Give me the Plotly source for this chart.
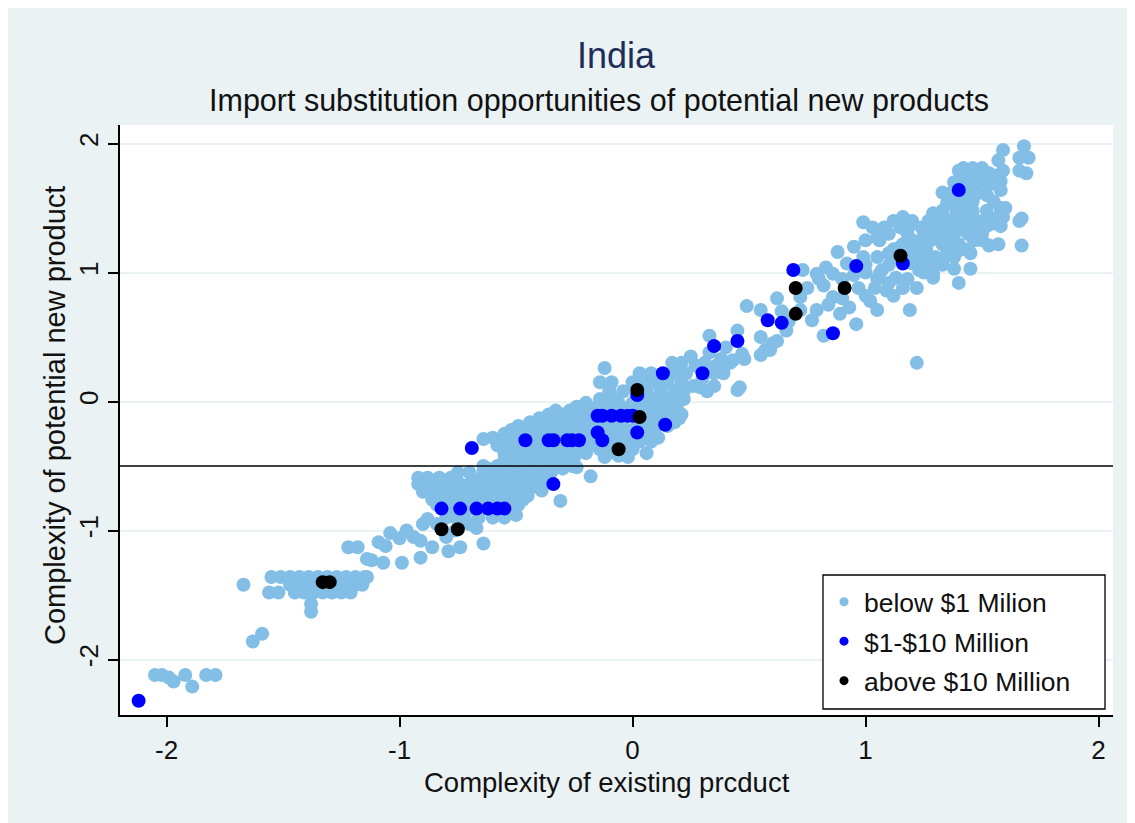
import plotly.graph_objects as go

# ---------------- data ----------------
series_names = ["below $1 Milion", "$1-$10 Million", "above $10 Million"]
series_colors = ["#82BEE6", "#0000FF", "#000000"]

light_points = [
    # far lower-left
    (-2.05, -2.12), (-2.02, -2.12), (-1.99, -2.14), (-1.97, -2.17), (-1.92, -2.12), (-1.89, -2.21),
    (-1.83, -2.12), (-1.79, -2.12), (-1.63, -1.86), (-1.59, -1.80), (-1.67, -1.42),
    # cluster around -1.4
    (-1.55, -1.36), (-1.51, -1.36), (-1.47, -1.36), (-1.43, -1.36), (-1.39, -1.36), (-1.35, -1.36),
    (-1.31, -1.36), (-1.27, -1.36), (-1.23, -1.36), (-1.19, -1.36), (-1.15, -1.36),
    (-1.47, -1.42), (-1.42, -1.42), (-1.37, -1.42), (-1.27, -1.42), (-1.23, -1.42), (-1.19, -1.42),
    (-1.16, -1.42), (-1.56, -1.48), (-1.52, -1.48), (-1.45, -1.48), (-1.41, -1.48), (-1.37, -1.48),
    (-1.33, -1.48), (-1.29, -1.48), (-1.25, -1.48), (-1.21, -1.48), (-1.38, -1.57), (-1.38, -1.63),
    (-1.14, -1.36), (-1.22, -1.13), (-1.18, -1.13),
    # -1.15 .. -0.85
    (-1.09, -1.09), (-1.06, -1.12), (-1.04, -1.02), (-1.00, -1.06), (-1.12, -1.23), (-1.07, -1.25),
    (-0.99, -1.25), (-0.94, -1.05), (-0.91, -1.08), (-0.91, -1.21), (-0.90, -0.95), (-0.86, -1.13),
    (-0.80, -1.05), (-0.79, -1.16), (-0.76, -1.00), (-0.74, -1.13), (-0.67, -0.98), (-0.64, -1.10),
    (-0.97, -1.00), (-0.88, -0.91), (-1.14, -1.22),
    # dense lower cluster
    (-0.92, -0.59), (-0.88, -0.59), (-0.83, -0.59), (-0.78, -0.59),
    (-0.86, -0.61), (-0.81, -0.61), (-0.76, -0.61), (-0.68, -0.61), (-0.63, -0.61), (-0.58, -0.61),
    (-0.53, -0.61), (-0.48, -0.61), (-0.43, -0.61),
    (-0.92, -0.64), (-0.87, -0.64), (-0.83, -0.64), (-0.79, -0.64), (-0.74, -0.64), (-0.70, -0.64),
    (-0.65, -0.64), (-0.61, -0.64), (-0.56, -0.64),
    (-0.88, -0.67), (-0.82, -0.67), (-0.77, -0.67), (-0.72, -0.67), (-0.68, -0.67), (-0.64, -0.67),
    (-0.60, -0.67), (-0.56, -0.67), (-0.52, -0.67), (-0.48, -0.67), (-0.44, -0.67), (-0.40, -0.67),
    (-0.90, -0.70), (-0.85, -0.70), (-0.80, -0.70), (-0.75, -0.70), (-0.71, -0.70), (-0.66, -0.70),
    (-0.62, -0.70), (-0.58, -0.70), (-0.54, -0.70), (-0.50, -0.70), (-0.46, -0.70),
    (-0.83, -0.73), (-0.78, -0.73), (-0.73, -0.73), (-0.69, -0.73), (-0.65, -0.73), (-0.61, -0.73),
    (-0.57, -0.73), (-0.53, -0.73), (-0.49, -0.73), (-0.45, -0.73),
    (-0.86, -0.76), (-0.80, -0.76), (-0.76, -0.76), (-0.72, -0.76), (-0.68, -0.76), (-0.63, -0.76),
    (-0.59, -0.76), (-0.55, -0.76), (-0.51, -0.76), (-0.47, -0.76),
    (-0.84, -0.80), (-0.79, -0.80), (-0.71, -0.80), (-0.65, -0.80), (-0.60, -0.80), (-0.53, -0.80),
    (-0.49, -0.80),
    (-0.78, -0.83), (-0.70, -0.83), (-0.50, -0.88),
    (-0.80, -0.90), (-0.76, -0.90), (-0.72, -0.90), (-0.66, -0.90), (-0.60, -0.90), (-0.55, -0.90),
    (-0.84, -0.95), (-0.70, -0.95),
    (-0.75, -0.55), (-0.70, -0.55), (-0.64, -0.55), (-0.60, -0.55), (-0.55, -0.55), (-0.50, -0.55),
    (-0.62, -0.52), (-0.56, -0.52), (-0.50, -0.52), (-0.46, -0.52), (-0.40, -0.52), (-0.35, -0.52),
    (-0.64, -0.50), (-0.58, -0.50), (-0.53, -0.50), (-0.48, -0.50), (-0.44, -0.50),
    (-0.55, -0.45), (-0.50, -0.45), (-0.45, -0.45), (-0.40, -0.45),
    (-0.42, -0.52), (-0.38, -0.48), (-0.35, -0.55), (-0.40, -0.60), (-0.44, -0.62), (-0.39, -0.69),
    (-0.31, -0.77), (-0.36, -0.60), (-0.30, -0.52), (-0.26, -0.50), (-0.24, -0.51), (-0.18, -0.58),
    (-0.33, -0.45), (-0.28, -0.42), (-0.06, -0.42),
    # middle cluster
    (-0.35, -0.45),
    (-0.55, -0.40), (-0.50, -0.40), (-0.46, -0.40), (-0.42, -0.40), (-0.38, -0.40), (-0.33, -0.40),
    (-0.20, -0.40), (-0.10, -0.40), (0.06, -0.40),
    (-0.48, -0.43), (-0.43, -0.43), (-0.38, -0.43), (-0.30, -0.43), (-0.25, -0.43), (-0.12, -0.43),
    (-0.02, -0.43),
    (-0.55, -0.37), (-0.50, -0.37), (-0.45, -0.37), (-0.40, -0.37), (-0.35, -0.37), (-0.30, -0.37),
    (-0.25, -0.37), (-0.20, -0.37), (-0.14, -0.37), (-0.09, -0.37), (0.00, -0.37),
    (-0.58, -0.34), (-0.53, -0.34), (-0.48, -0.34), (-0.43, -0.34), (-0.38, -0.34), (-0.33, -0.34),
    (-0.28, -0.34), (-0.22, -0.34), (-0.17, -0.34), (-0.12, -0.34), (-0.03, -0.34),
    (-0.56, -0.31), (-0.51, -0.31), (-0.42, -0.31), (-0.38, -0.31), (-0.31, -0.31), (-0.20, -0.31),
    (-0.17, -0.31), (-0.08, -0.31), (-0.03, -0.31), (0.03, -0.31), (0.08, -0.31),
    (-0.64, -0.29), (-0.60, -0.28), (-0.54, -0.28), (-0.50, -0.28), (-0.45, -0.28), (-0.40, -0.28),
    (-0.35, -0.28), (-0.30, -0.28), (-0.25, -0.28), (-0.20, -0.28), (-0.10, -0.28), (-0.05, -0.28),
    (0.00, -0.28), (0.05, -0.28), (0.11, -0.28),
    (-0.55, -0.25), (-0.48, -0.25), (-0.43, -0.25), (-0.38, -0.25), (-0.32, -0.25), (-0.27, -0.25),
    (-0.22, -0.25), (-0.10, -0.25), (-0.05, -0.25), (0.00, -0.25), (0.06, -0.25),
    (-0.52, -0.22), (-0.46, -0.22), (-0.40, -0.22), (-0.35, -0.22), (-0.30, -0.22), (-0.25, -0.22),
    (-0.20, -0.22), (-0.15, -0.22), (-0.08, -0.22), (-0.02, -0.22), (0.04, -0.22), (0.09, -0.22),
    (-0.49, -0.19), (-0.41, -0.19), (-0.35, -0.19), (-0.29, -0.19), (-0.24, -0.19), (-0.19, -0.19),
    (-0.13, -0.19), (-0.08, -0.19), (0.02, -0.19), (0.10, -0.19), (0.15, -0.19),
    (-0.44, -0.16), (-0.38, -0.16), (-0.32, -0.16), (-0.27, -0.16), (-0.22, -0.16), (-0.17, -0.16),
    (-0.11, -0.16), (-0.05, -0.16), (0.08, -0.16), (0.12, -0.16), (0.18, -0.16),
    (-0.40, -0.13), (-0.34, -0.13), (-0.28, -0.13), (-0.23, -0.13), (-0.18, -0.13), (0.05, -0.13),
    (0.10, -0.13), (0.15, -0.13), (0.20, -0.13),
    (-0.36, -0.10), (-0.30, -0.10), (-0.25, -0.10), (-0.20, -0.10), (-0.08, -0.10), (0.06, -0.10),
    (0.10, -0.10), (0.16, -0.10), (0.21, -0.10),
    (-0.33, -0.07), (-0.27, -0.07), (-0.22, -0.07), (-0.17, -0.07), (-0.12, -0.07), (-0.05, -0.07),
    (0.04, -0.07), (0.09, -0.07), (0.14, -0.07), (0.18, -0.07),
    (-0.24, -0.04), (-0.21, -0.04), (-0.15, -0.04), (-0.10, -0.04), (-0.05, -0.04), (0.02, -0.04),
    (0.08, -0.04), (0.13, -0.04), (0.19, -0.04),
    (-0.20, -0.01), (-0.12, -0.01), (-0.06, -0.01), (0.00, -0.01), (0.06, -0.01), (0.11, -0.01),
    (0.17, -0.01),
    (-0.14, 0.02), (-0.08, 0.02), (0.04, 0.02), (0.10, 0.02), (0.16, 0.02), (0.22, 0.02),
    (-0.10, 0.08), (-0.04, 0.08), (0.06, 0.08), (0.12, 0.08), (0.18, 0.08),
    (-0.14, 0.15), (-0.09, 0.15), (0.00, 0.15), (0.05, 0.15), (0.10, 0.15), (0.15, 0.15), (0.21, 0.15),
    (0.03, 0.22), (0.08, 0.22), (0.18, 0.22), (0.23, 0.22), (0.35, 0.22), (0.39, 0.22),
    (-0.12, 0.26), (0.17, 0.30), (0.21, 0.30), (0.27, 0.28), (0.31, 0.30),
    # 0.2 .. 0.7
    (0.26, 0.12), (0.29, 0.11), (0.30, 0.18), (0.33, 0.51), (0.39, 0.26), (0.43, 0.32), (0.45, 0.55),
    (0.47, 0.37), (0.46, 0.11), (0.49, 0.74), (0.55, 0.71), (0.55, 0.50), (0.57, 0.40), (0.62, 0.80),
    (0.62, 0.47), (0.66, 0.55), (0.55, 0.36), (0.59, 0.40), (0.60, 0.45), (0.72, 0.71), (0.72, 0.81),
    (0.45, 0.09), (0.40, 0.42), (0.35, 0.12), (0.42, 0.30), (0.48, 0.33), (0.67, 0.62), (0.64, 0.70),
    (0.25, 0.35), (0.33, 0.38), (0.38, 0.33), (0.22, 0.08), (0.32, 0.08), (0.36, 0.28),
    # 0.7 .. 1.2
    (0.73, 1.02), (0.79, 0.99), (0.83, 1.04), (0.88, 1.16), (0.79, 0.71), (0.77, 0.63), (0.82, 0.51),
    (0.86, 0.81), (0.89, 0.68), (0.93, 0.73), (0.96, 0.60), (0.92, 1.07), (0.97, 0.88), (1.02, 0.78),
    (1.05, 0.71), (1.09, 0.86), (1.07, 1.02), (1.19, 0.71), (1.22, 0.30), (1.24, 1.04), (1.27, 1.12),
    (1.29, 0.96), (1.05, 1.27), (0.99, 1.12), (1.03, 1.35), (1.10, 1.30), (1.18, 1.30), (1.24, 1.25),
    (1.30, 1.27), (0.99, 1.39), (1.06, 1.25), (1.12, 1.40), (1.20, 1.38), (1.10, 1.15), (1.15, 1.20),
    (1.00, 1.00), (1.05, 0.95), (1.10, 0.92), (1.18, 0.95), (1.22, 0.88), (1.25, 1.00), (0.82, 0.90),
    (0.75, 0.88), (0.86, 0.99), (1.13, 0.96), (1.06, 0.99), (1.00, 0.82),
    (0.80, 0.95), (0.90, 0.95), (0.95, 0.98), (0.95, 1.20), (1.00, 1.25), (1.08, 1.35), (1.15, 1.35),
    (0.84, 0.75), (0.90, 0.80), (1.04, 0.88), (1.12, 0.82), (1.16, 0.88),
    # upper right
    (1.59, 1.95), (1.57, 1.87), (1.59, 1.79), (1.58, 1.71), (1.58, 1.64), (1.58, 1.50), (1.59, 1.43),
    (1.55, 1.38), (1.52, 1.48), (1.50, 1.81), (1.46, 1.81), (1.40, 1.79), (1.36, 1.61), (1.35, 1.54),
    (1.39, 1.48), (1.43, 1.58), (1.46, 1.69), (1.50, 1.71), (1.53, 1.77), (1.43, 1.46), (1.43, 1.35),
    (1.46, 1.27), (1.40, 1.33), (1.40, 1.22), (1.40, 1.17), (1.36, 1.27), (1.32, 1.33), (1.29, 1.46),
    (1.33, 1.22), (1.24, 1.35), (1.20, 1.40), (1.16, 1.43), (1.18, 1.33), (1.23, 1.22), (1.16, 1.22),
    (1.30, 1.12), (1.29, 0.99), (1.20, 1.07), (1.23, 1.02), (1.38, 1.03), (1.45, 1.03), (1.40, 0.92),
    (1.53, 1.21), (1.57, 1.22), (1.49, 1.33), (1.66, 1.89), (1.68, 1.98), (1.70, 1.89), (1.66, 1.79),
    (1.69, 1.77), (1.66, 1.40), (1.67, 1.42), (1.67, 1.21), (1.42, 1.81), (1.60, 1.50), (1.37, 1.40),
    (1.47, 1.60), (1.52, 1.60), (1.55, 1.55), (1.48, 1.40), (1.35, 1.33), (1.27, 1.40), (1.45, 1.15),
    (1.50, 1.25), (1.38, 1.70),
    (1.42, 1.75), (1.47, 1.75), (1.52, 1.75), (1.56, 1.75),
    (1.40, 1.68), (1.44, 1.68), (1.48, 1.68), (1.53, 1.68), (1.57, 1.68),
    (1.33, 1.62), (1.37, 1.62), (1.44, 1.62), (1.48, 1.62),
    (1.38, 1.55), (1.42, 1.55), (1.46, 1.55),
    (1.33, 1.48), (1.46, 1.48),
    (1.30, 1.42), (1.34, 1.42), (1.38, 1.42), (1.42, 1.42), (1.46, 1.42), (1.52, 1.42), (1.56, 1.42),
    (1.28, 1.36), (1.32, 1.36), (1.38, 1.36), (1.44, 1.36), (1.52, 1.36), (1.58, 1.36),
    (1.25, 1.30), (1.30, 1.30), (1.38, 1.30), (1.44, 1.30), (1.50, 1.30),
    (1.20, 1.25), (1.28, 1.25), (1.34, 1.25), (1.47, 1.25),
    (1.12, 1.18), (1.20, 1.18), (1.26, 1.18), (1.35, 1.18), (1.44, 1.18),
    (1.05, 1.12), (1.12, 1.12), (1.18, 1.12), (1.22, 1.12), (1.34, 1.12), (1.38, 1.12),
    (1.00, 1.06), (1.10, 1.06), (1.28, 1.06), (1.33, 1.06),
]

blue_points = [
    (-2.12, -2.32),
    (-0.82, -0.83), (-0.74, -0.83), (-0.67, -0.83), (-0.62, -0.83), (-0.58, -0.83), (-0.55, -0.83),
    (-0.34, -0.64), (-0.69, -0.36),
    (-0.46, -0.30), (-0.36, -0.30), (-0.34, -0.30), (-0.28, -0.30), (-0.26, -0.30), (-0.23, -0.30),
    (-0.15, -0.11), (-0.13, -0.11), (-0.09, -0.11), (-0.05, -0.11), (-0.02, -0.11), (0.00, -0.11),
    (-0.15, -0.24), (-0.13, -0.30), (0.02, -0.24), (0.14, -0.18), (0.13, 0.22), (0.02, 0.05),
    (0.30, 0.22), (0.35, 0.43), (0.45, 0.47), (0.58, 0.63), (0.64, 0.61), (0.69, 1.02),
    (0.86, 0.53), (0.96, 1.05), (1.16, 1.07), (1.40, 1.64),
]

black_points = [
    (-1.33, -1.40), (-1.30, -1.40), (-0.82, -0.99), (-0.75, -0.99), (-0.06, -0.37), (0.02, 0.09),
    (0.03, -0.12), (0.70, 0.88), (0.70, 0.68), (0.91, 0.88), (1.15, 1.13),
]

x_ticks = [-2, -1, 0, 1, 2]
y_ticks = [-2, -1, 0, 1, 2]
tick_labels = ["-2", "-1", "0", "1", "2"]
cutoff_y = -0.5

title_text = "India"
subtitle_text = "Import substitution opportunities of potential new products"
x_title = "Complexity of existing prcduct"
y_title = "Complexity of potential new product"

# ---------------- figure ----------------
FONT = "Liberation Sans, Arial, sans-serif"
TXT = "#111111"
# page body adds an 8px offset; plot area should span x 120..1113, y 125..715 on screen
W, H = 1127, 815
ML, MT, MR, MB = 112, 117, 22, 108
PW, PH = W - ML - MR, H - MT - MB  # 993 x 590


def px_x(px):  # screen px -> paper x
    return (px - 8 - ML) / PW


def px_y(py):  # screen px -> paper y
    return (H - MB + 8 - py) / PH


fig = go.Figure()

for pts, name, col in zip([light_points, blue_points, black_points], series_names, series_colors):
    fig.add_trace(go.Scatter(
        x=[p[0] for p in pts], y=[p[1] for p in pts], mode="markers", name=name,
        marker=dict(color=col, size=14, line=dict(width=0)), showlegend=False,
    ))

# legend entries with smaller markers
for i, (name, col) in enumerate(zip(series_names, series_colors)):
    fig.add_trace(go.Scatter(
        x=[None], y=[None], mode="markers", name=name, legendgroup=f"g{i}",
        marker=dict(color=col, size=9), showlegend=True,
    ))

fig.add_hline(y=cutoff_y, line=dict(color="black", width=1.5))

# legend frame
fig.add_shape(type="rect", xref="paper", yref="paper",
              x0=px_x(823), x1=px_x(1105), y0=px_y(709), y1=px_y(575),
              fillcolor="white", line=dict(color="black", width=1.3), layer="above")

fig.update_layout(
    width=W, height=H,
    paper_bgcolor="#EAF2F3", plot_bgcolor="white",
    margin=dict(l=ML, r=MR, t=MT, b=MB),
    font=dict(family=FONT, size=26, color=TXT),
    showlegend=True,
    legend=dict(
        x=px_x(824), y=px_y(578), xanchor="left", yanchor="top",
        bgcolor="rgba(0,0,0,0)", borderwidth=0,
        font=dict(family=FONT, size=26.5, color=TXT),
        tracegroupgap=2, itemwidth=30,
    ),
    xaxis=dict(
        range=[-2.2, 2.062], tickvals=x_ticks, ticktext=tick_labels, ticks="outside", ticklen=10,
        tickwidth=1.5, tickcolor="black", showline=True, linecolor="black", linewidth=1.5,
        showgrid=False, zeroline=False, tickfont=dict(size=26, family=FONT, color=TXT),
        ticklabelstandoff=1,
    ),
    yaxis=dict(
        range=[-2.43, 2.144], tickvals=y_ticks, ticktext=tick_labels, ticks="outside", ticklen=10,
        tickwidth=1.5, tickcolor="black", showline=True, linecolor="black", linewidth=1.5,
        showgrid=True, gridcolor="#EAF2F3", gridwidth=1.5, zeroline=False,
        tickangle=-90, tickfont=dict(size=26, family=FONT, color=TXT),
    ),
    annotations=[
        dict(text=title_text, x=px_x(616), y=px_y(55), xref="paper", yref="paper",
             showarrow=False, font=dict(size=36, color="#1F2D5A", family=FONT),
             xanchor="center", yanchor="middle"),
        dict(text=subtitle_text, x=px_x(599), y=px_y(101), xref="paper", yref="paper",
             showarrow=False, font=dict(size=30.5, color=TXT, family=FONT),
             xanchor="center", yanchor="middle"),
        dict(text=x_title, x=px_x(607), y=px_y(782), xref="paper", yref="paper",
             showarrow=False, font=dict(size=27.5, color=TXT, family=FONT),
             xanchor="center", yanchor="middle"),
        dict(text=y_title, x=px_x(55), y=px_y(416), xref="paper", yref="paper",
             showarrow=False, textangle=-90, font=dict(size=29, color=TXT, family=FONT),
             xanchor="center", yanchor="middle"),
    ],
)

fig.write_html("out.html")
